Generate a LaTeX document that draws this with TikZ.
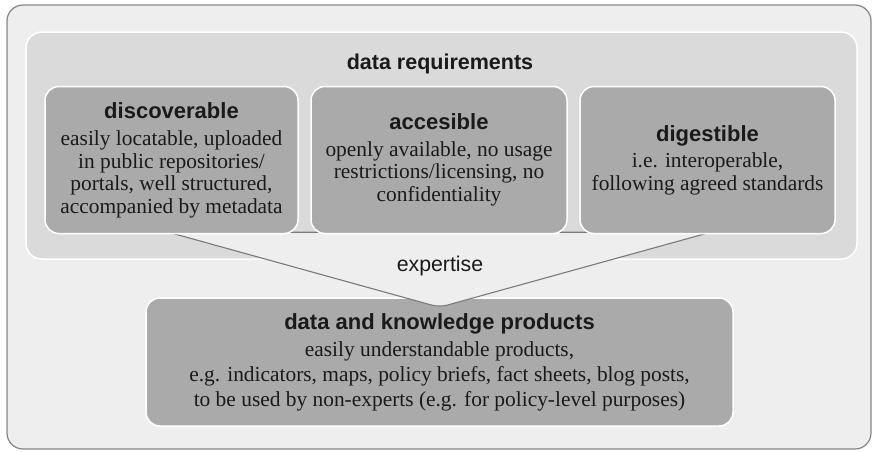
\documentclass[tikz,border=0pt]{standalone}
\usepackage{fontspec}
\setmainfont{Liberation Serif}
\setsansfont{Liberation Sans}
\usetikzlibrary{positioning,backgrounds}

\definecolor{outerbg}{HTML}{EEEEEE}
\definecolor{reqbg}{HTML}{DADADA}
\definecolor{boxbg}{HTML}{AAAAAA}
\definecolor{rimgray}{HTML}{858585}
\definecolor{funnelgray}{HTML}{7A7A7A}
\definecolor{inkgray}{HTML}{1A1A1A}
\newcommand{\hd}[1]{{\sffamily\bfseries\fontsize{22}{24}\selectfont #1}}

\begin{document}
\begin{tikzpicture}[x=1pt,y=-1pt,
  item/.style={draw=white,line width=1.5pt,fill=boxbg,rounded corners=14pt,
    minimum height=147pt,inner sep=0pt,align=center,text=inkgray,
    font=\fontsize{21.4}{22.5}\selectfont},
  prodbox/.style={item,minimum width=587pt,minimum height=128pt,
    font=\fontsize{21.4}{25}\selectfont},
  title/.style={text=inkgray,font=\sffamily\bfseries\fontsize{21.5}{24}\selectfont},
  plain/.style={text=inkgray,font=\sffamily\fontsize{21.3}{24}\selectfont},
  outer/.style={draw=rimgray,line width=1.2pt,fill=outerbg,rounded corners=16pt},
  reqframe/.style={draw=white,line width=1.5pt,fill=reqbg,rounded corners=16pt},
  funnel/.style={draw=funnelgray,line width=1.1pt,fill=outerbg,rounded corners=8pt}
]
\useasboundingbox (0,0) rectangle (874,451);
\node[item,minimum width=253pt] (disc) at (171.5,160) {\hd{discoverable}\\[5pt]easily locatable, uploaded\\in public repositories/\\portals, well structured,\\accompanied by metadata};
\node[item,minimum width=256pt] (acc) at (439,160) {\hd{accesible}\\[4pt]openly available, no usage\\restrictions/licensing, no\\confidentiality};
\node[item,minimum width=255pt] (dig) at (707.5,160) {\hd{digestible}\\[4pt]i.e. interoperable,\\following agreed standards};
\node[title] (reqtitle) at (440,64) {data requirements};
\node[plain] (expert) at (440,266) {expertise};
\begin{scope}[on background layer]
\draw[outer] (7,5) rectangle (871,449);
\draw[reqframe] (26,32) rectangle (857,259);
\node[prodbox] (prod) at (439.5,362) {\hd{data and knowledge products}\\[2pt]easily understandable products,\\e.g. indicators, maps, policy briefs, fact sheets, blog posts,\\to be used by non-experts (e.g. for policy-level purposes)};
\draw[funnel] ([xshift=-3pt,yshift=2pt]disc.south) -- ([xshift=3pt,yshift=2pt]dig.south) -- ([yshift=-10pt]prod.north) -- cycle;
\end{scope}
\end{tikzpicture}
\end{document}
